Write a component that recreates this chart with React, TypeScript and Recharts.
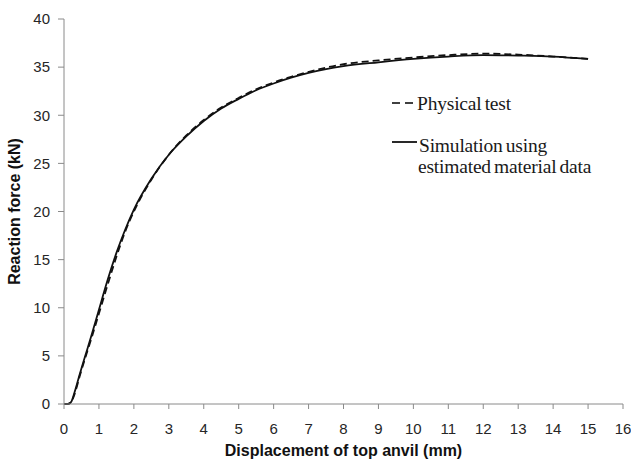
import React from 'react';
import { LineChart, Line, XAxis, YAxis } from 'recharts';

const displacement = [0, 0.1, 0.2, 0.3, 0.45, 0.6, 0.8, 1.0, 1.25, 1.5, 1.75, 2.0, 2.5, 3.0, 3.5, 4.0, 4.5, 5.0, 5.5, 6.0, 6.5, 7.0, 7.5, 8.0, 9.0, 10.0, 11.0, 12.0, 13.0, 14.0, 15.0];
const simulation = [0, 0, 0.2, 1.2, 3.1, 4.9, 7.3, 9.8, 12.9, 15.7, 18.1, 20.2, 23.4, 25.9, 27.8, 29.4, 30.7, 31.7, 32.6, 33.3, 33.9, 34.4, 34.8, 35.1, 35.5, 35.85, 36.1, 36.25, 36.2, 36.1, 35.85];
const physical = [0, 0, 0.15, 1.0, 2.9, 4.7, 7.0, 9.4, 12.4, 15.3, 17.9, 20.0, 23.3, 25.9, 27.9, 29.5, 30.8, 31.8, 32.7, 33.4, 34.0, 34.5, 34.95, 35.3, 35.7, 36.0, 36.25, 36.4, 36.3, 36.1, 35.85];

const xTicks = [0, 1, 2, 3, 4, 5, 6, 7, 8, 9, 10, 11, 12, 13, 14, 15, 16];
const yTicks = [0, 5, 10, 15, 20, 25, 30, 35, 40];

const xTitle = 'Displacement of top anvil (mm)';
const yTitle = 'Reaction force (kN)';
const legendPhysical = 'Physical test';
const legendSim1 = 'Simulation using';
const legendSim2 = 'estimated material data';

const data = displacement.map((x, i) => ({ x, sim: simulation[i], phys: physical[i] }));

const axisColor = '#8a8a8a';
const tickStyle = { fontFamily: 'Liberation Sans, Arial, sans-serif', fontSize: 15, fill: '#262626' };

const LegendBox = () => {
  const font = { fontFamily: 'Liberation Serif, Times New Roman, serif', fontSize: 19.5, fill: '#1a1a1a', letterSpacing: -0.2, wordSpacing: -1.5 } as any;
  return (
    <svg width={235} height={90} style={{ position: 'absolute', left: 392, top: 95, overflow: 'visible' }}>
      <line x1={0} y1={8} x2={8} y2={8} stroke="#111" strokeWidth={1.6} />
      <line x1={13} y1={8} x2={21} y2={8} stroke="#111" strokeWidth={1.6} />
      <text x={25} y={15} {...font}>{legendPhysical}</text>
      <line x1={0} y1={47} x2={25} y2={47} stroke="#111" strokeWidth={1.8} />
      <text x={27} y={57} {...font}>{legendSim1}</text>
      <text x={26} y={78} {...font}>{legendSim2}</text>
    </svg>
  );
};

export default function App() {
  return (
    <div style={{ position: 'absolute', left: 0, top: 0, width: 631, height: 459, background: '#fff' }}>
      <LineChart width={631} height={459} data={data} margin={{ top: 19, right: 8, bottom: 25, left: 0 }}>
        <XAxis
          dataKey="x"
          type="number"
          domain={[0, 16]}
          ticks={xTicks}
          interval={0}
          stroke={axisColor}
          tickLine={{ stroke: axisColor }}
          tickSize={5}
          tickMargin={14}
          height={30}
          tick={tickStyle}
          label={(props: any) => {
            const vb = props.viewBox || { x: 64, y: 404, width: 558, height: 30 };
            return (
              <text x={vb.x + vb.width / 2} y={456} textAnchor="middle" fontFamily="Liberation Sans, Arial, sans-serif" fontSize={16} fontWeight="bold" fill="#111">
                {xTitle}
              </text>
            );
          }}
        />
        <YAxis
          type="number"
          domain={[0, 40]}
          ticks={yTicks}
          interval={0}
          stroke={axisColor}
          tickLine={{ stroke: axisColor }}
          tickSize={6}
          tickMargin={8}
          width={64}
          tick={tickStyle}
          label={(props: any) => {
            const vb = props.viewBox || { x: 0, y: 19, width: 64, height: 385 };
            const cy = vb.y + vb.height / 2;
            return (
              <text x={20} y={cy} transform={`rotate(-90, 20, ${cy})`} textAnchor="middle" fontFamily="Liberation Sans, Arial, sans-serif" fontSize={16} fontWeight="bold" fill="#111">
                {yTitle}
              </text>
            );
          }}
        />
        <Line type="monotone" dataKey="sim" stroke="#111" strokeWidth={1.8} dot={false} isAnimationActive={false} />
        <Line type="monotone" dataKey="phys" stroke="#111" strokeWidth={1.8} strokeDasharray="7 4" dot={false} isAnimationActive={false} />
      </LineChart>
      <LegendBox />
    </div>
  );
}
